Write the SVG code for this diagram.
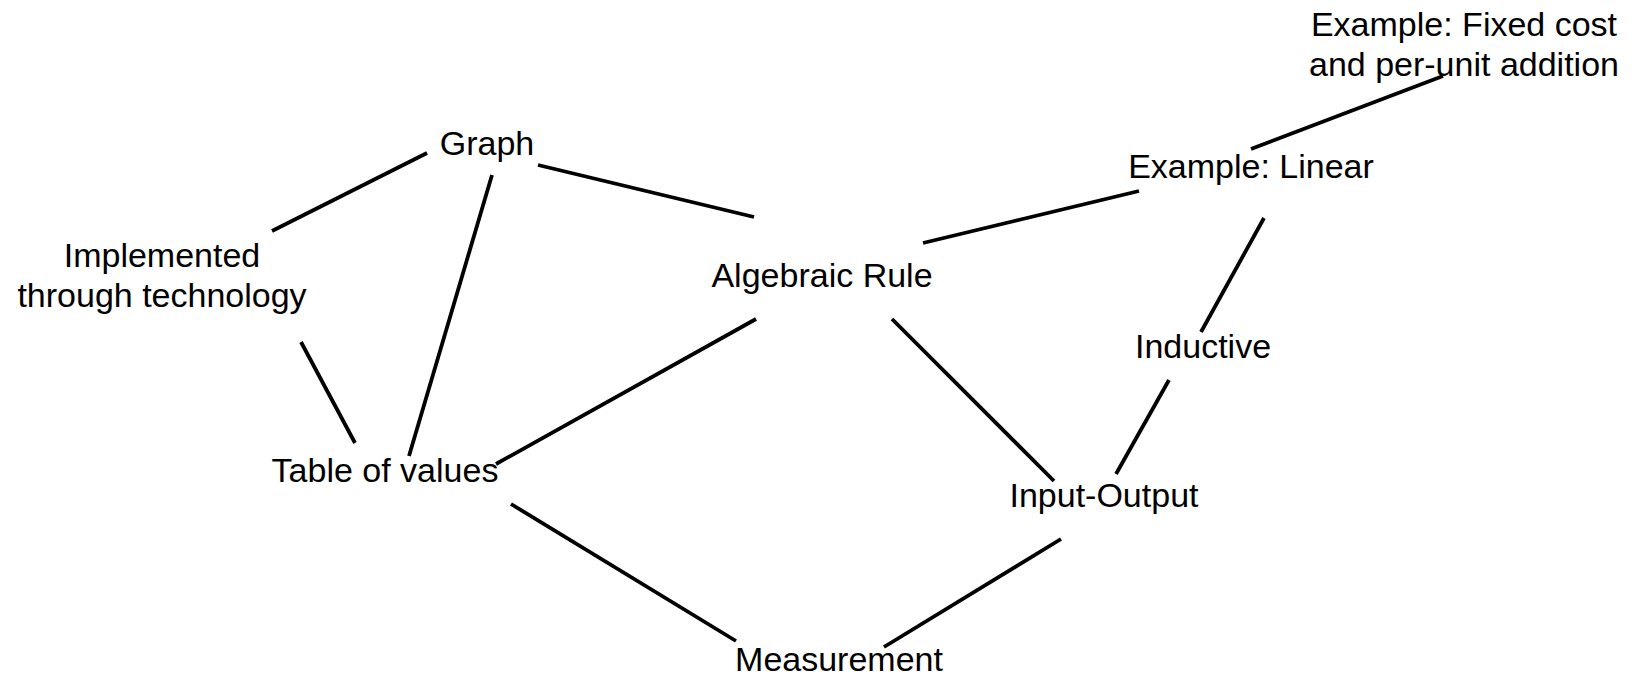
<svg xmlns="http://www.w3.org/2000/svg" width="1640" height="678" viewBox="0 0 1640 678">
<style>
  .lbl { font-family: "Liberation Sans", Arial, sans-serif; font-size: 34px; fill: #000; text-anchor: middle; }
  .edge { stroke: #000; stroke-width: 3.8; fill: none; }
</style>
<rect width="1640" height="678" fill="#fff"/>
<g id="connectors">
  <line class="edge" x1="427" y1="153" x2="272" y2="231"/>
  <line class="edge" x1="492" y1="175" x2="409" y2="456"/>
  <line class="edge" x1="301" y1="342" x2="355" y2="443"/>
  <line class="edge" x1="538" y1="165" x2="754" y2="217"/>
  <line class="edge" x1="756" y1="319" x2="496" y2="464"/>
  <line class="edge" x1="923" y1="243" x2="1139" y2="191"/>
  <line class="edge" x1="1251" y1="149" x2="1443" y2="76"/>
  <line class="edge" x1="1264" y1="218" x2="1201" y2="332"/>
  <line class="edge" x1="892" y1="319" x2="1054" y2="481"/>
  <line class="edge" x1="1169" y1="380" x2="1116" y2="474"/>
  <line class="edge" x1="511" y1="504" x2="736" y2="641"/>
  <line class="edge" x1="1061" y1="539" x2="884" y2="647"/>
</g>
<g id="graph"><text class="lbl" x="487" y="155">Graph</text></g>
<g id="implemented"><text class="lbl" x="162" y="267">Implemented</text><text class="lbl" x="162" y="307">through technology</text></g>
<g id="table"><text class="lbl" x="385" y="482">Table of values</text></g>
<g id="algebraic"><text class="lbl" x="822" y="287">Algebraic Rule</text></g>
<g id="example-linear"><text class="lbl" x="1251" y="178">Example: Linear</text></g>
<g id="example-fixed"><text class="lbl" x="1464" y="36">Example: Fixed cost</text><text class="lbl" x="1464" y="76">and per-unit addition</text></g>
<g id="inductive"><text class="lbl" x="1203" y="358">Inductive</text></g>
<g id="input-output"><text class="lbl" x="1104" y="507">Input-Output</text></g>
<g id="measurement"><text class="lbl" x="839" y="671">Measurement</text></g>
</svg>
